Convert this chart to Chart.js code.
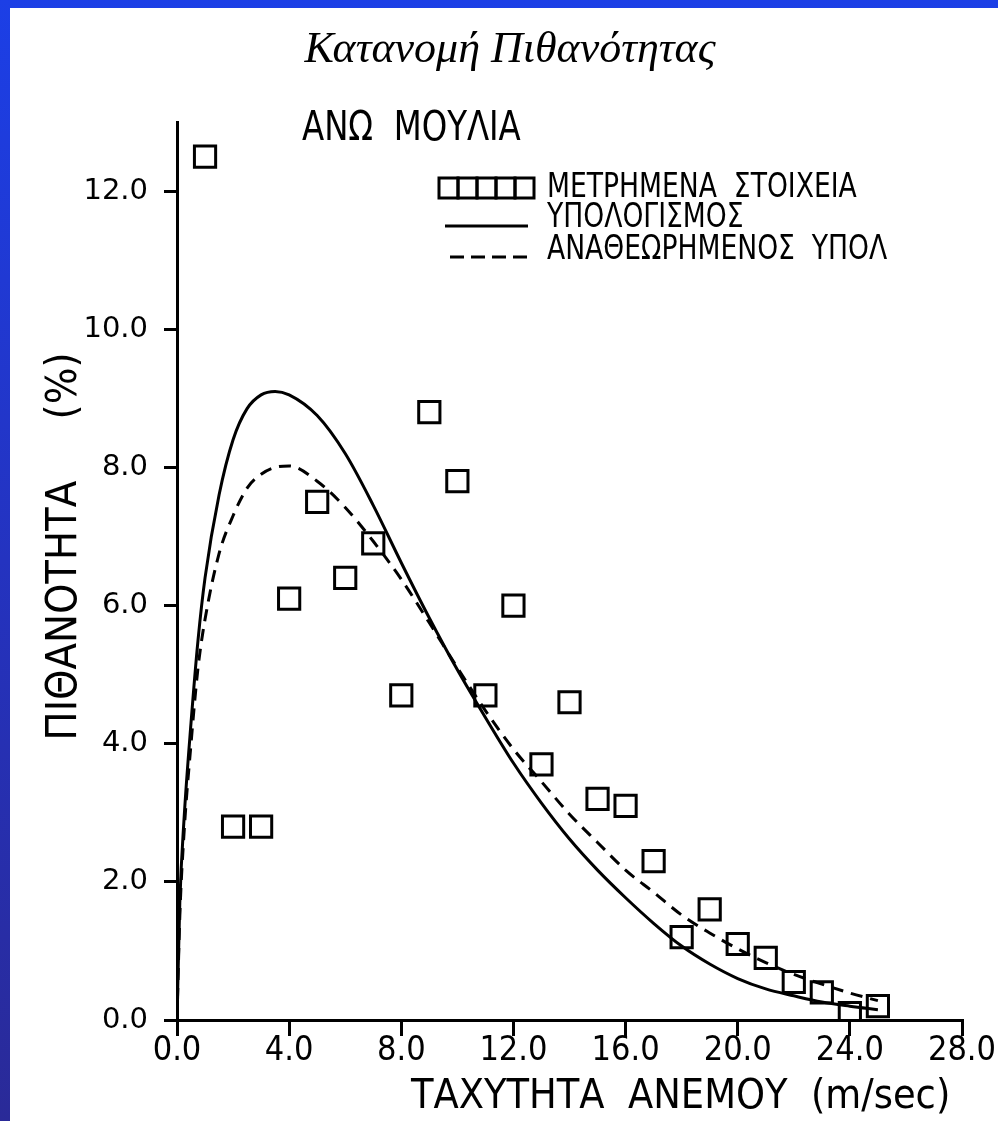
<!DOCTYPE html>
<html>
<head>
<meta charset="utf-8">
<script src="https://cdn.jsdelivr.net/npm/chart.js@4"></script>
<style>
  html, body { margin: 0; padding: 0; }
  body {
    width: 998px; height: 1121px; overflow: hidden;
    background: linear-gradient(to bottom, #1c3fe6 0%, #2433c0 50%, #2a2a98 100%);
    position: relative;
  }
  #panel { position: absolute; left: 10px; top: 8px; width: 988px; height: 1113px; background: #fff; }
  #chart { position: absolute; left: 0; top: 0; }
</style>
</head>
<body>
<div id="panel"><canvas id="chart" width="988" height="1113"></canvas></div>
<script>
// wind speed (m/sec) of the measured points and their probability (%)
measuredX = [1, 2, 3, 4, 5, 6, 7, 8, 9, 10, 11, 12, 13, 14, 15, 16, 17, 18, 19, 20, 21, 22, 23, 24, 25]
measuredY = [12.5, 2.8, 2.8, 6.1, 7.5, 6.4, 6.9, 4.7, 8.8, 7.8, 4.7, 6.0, 3.7, 4.6, 3.2, 3.1, 2.3, 1.2, 1.6, 1.1, 0.9, 0.55, 0.4, 0.1, 0.2]

// calculated curves
curveX = [0, 0.1, 0.25, 0.5, 0.75, 1, 1.5, 2, 2.5, 3, 3.5, 4, 5, 6, 7, 8, 9, 10, 11, 12, 13, 14, 15, 16, 17, 18, 19, 20, 21, 22, 23, 24, 25]
calcY = [0, 1.7, 2.9, 4.3, 5.5, 6.4, 7.6, 8.4, 8.85, 9.05, 9.1, 9.05, 8.75, 8.2, 7.45, 6.62, 5.82, 5.07, 4.38, 3.72, 3.14, 2.62, 2.17, 1.77, 1.4, 1.07, 0.81, 0.6, 0.45, 0.35, 0.26, 0.2, 0.15]
revisedY = [0, 1.5, 2.7, 4.0, 5.1, 5.8, 6.75, 7.3, 7.7, 7.9, 8.0, 8.02, 7.8, 7.42, 6.93, 6.38, 5.75, 5.1, 4.48, 3.92, 3.45, 2.98, 2.57, 2.17, 1.85, 1.52, 1.26, 1.03, 0.83, 0.66, 0.52, 0.39, 0.28]

labels = ['ΜΕΤΡΗΜΕΝΑ  ΣΤΟΙΧΕΙΑ', 'ΥΠΟΛΟΓΙΣΜΟΣ', 'ΑΝΑΘΕΩΡΗΜΕΝΟΣ  ΥΠΟΛ']
xTicks = [0, 4, 8, 12, 16, 20, 24, 28]
yTicks = [0, 2, 4, 6, 8, 10, 12]

var NARROW = "'Liberation Sans Narrow', 'Arial Narrow', 'DejaVu Sans Condensed', sans-serif";

function pts(xs, ys) {
    return xs.map((x, i) => ({x: x, y: ys[i]}));
}

// squeezed text, the original lettering is narrower than any font here
function narrowText(ctx, text, x, y, sx) {
    ctx.save();
    ctx.translate(x, y);
    ctx.scale(sx, 1);
    ctx.fillText(text, 0, 0);
    ctx.restore();
}

// title, site name + hand drawn legend
var annot = {
    id: 'annot',
    afterDraw(chart) {
        var ctx = chart.ctx;
        ctx.save();
        ctx.fillStyle = '#000';
        ctx.strokeStyle = '#000';
        ctx.textBaseline = 'middle';

        ctx.textAlign = 'center';
        ctx.font = "italic 44px 'Liberation Serif', 'DejaVu Serif', serif";
        ctx.fillText('Κατανομή Πιθανότητας', 500, 42);
        ctx.textAlign = 'left';

        ctx.font = '40px ' + NARROW;
        narrowText(ctx, 'ΑΝΩ  ΜΟΥΛΙΑ', 292, 122, 0.9);

        ctx.lineWidth = 3;
        for (var i = 0; i < 5; i++) ctx.strokeRect(429 + i * 19, 170, 19, 20);
        ctx.beginPath();
        ctx.moveTo(435, 218); ctx.lineTo(518, 218);
        ctx.stroke();
        ctx.setLineDash([14, 7]);
        ctx.beginPath();
        ctx.moveTo(440, 249); ctx.lineTo(518, 249);
        ctx.stroke();
        ctx.setLineDash([]);

        ctx.font = '34px ' + NARROW;
        narrowText(ctx, chart.data.datasets[0].label, 537, 180, 0.87);
        narrowText(ctx, chart.data.datasets[1].label, 537, 210, 0.87);
        narrowText(ctx, chart.data.datasets[2].label, 537, 242, 0.87);
        ctx.restore();
    }
};

var ctx = document.getElementById('chart').getContext('2d');
new Chart(ctx, {
    type: 'scatter',
    data: {
        datasets: [
            {
                label: labels[0],
                data: pts(measuredX, measuredY),
                pointStyle: 'rect',
                pointRadius: 15,
                borderColor: '#000',
                backgroundColor: 'rgba(0,0,0,0)',
                borderWidth: 3,
                showLine: false
            },
            {
                label: labels[1],
                data: pts(curveX, calcY),
                showLine: true,
                pointRadius: 0,
                borderColor: '#000',
                borderWidth: 3,
                cubicInterpolationMode: 'monotone'
            },
            {
                label: labels[2],
                data: pts(curveX, revisedY),
                showLine: true,
                pointRadius: 0,
                borderColor: '#000',
                borderWidth: 3,
                borderDash: [12, 8],
                cubicInterpolationMode: 'monotone'
            }
        ]
    },
    options: {
        responsive: false,
        animation: false,
        layout: { padding: { left: 0, right: 36, top: 114, bottom: 0 } },
        plugins: {
            legend: { display: false },
            tooltip: { enabled: false },
            title: { display: false }
        },
        scales: {
            x: {
                type: 'linear',
                min: 0, max: 28,
                afterFit(scale) { scale.height = 101; },
                afterBuildTicks(scale) { scale.ticks = xTicks.map(v => ({value: v})); },
                border: { display: true, color: '#000', width: 3 },
                grid: { drawOnChartArea: false, color: '#000', lineWidth: 3, tickLength: 16 },
                ticks: {
                    color: '#000', padding: -5, maxRotation: 0,
                    font: { family: NARROW, size: 34 },
                    callback: v => v.toFixed(1)
                },
                title: {
                    display: true, align: 'end',
                    text: 'ΤΑΧΥΤΗΤΑ  ΑΝΕΜΟΥ  (m/sec) ',
                    color: '#000',
                    font: { family: NARROW, size: 41, lineHeight: 1 },
                    padding: { top: 0, bottom: 3 }
                }
            },
            y: {
                type: 'linear',
                min: 0, max: 13,
                afterFit(scale) { scale.width = 167; },
                afterBuildTicks(scale) { scale.ticks = yTicks.map(v => ({value: v})); },
                border: { display: true, color: '#000', width: 3 },
                grid: { drawOnChartArea: false, color: '#000', lineWidth: 3, tickLength: 13 },
                ticks: {
                    color: '#000', padding: 16,
                    font: { family: "'DejaVu Sans', sans-serif", size: 29 },
                    callback: v => v.toFixed(1)
                },
                title: {
                    display: true,
                    text: '    ΠΙΘΑΝΟΤΗΤΑ     (%)',
                    color: '#000',
                    font: { family: NARROW, size: 43, lineHeight: 1 },
                    padding: { top: 33, bottom: 0 }
                }
            }
        }
    },
    plugins: [annot]
});
</script>
</body>
</html>
